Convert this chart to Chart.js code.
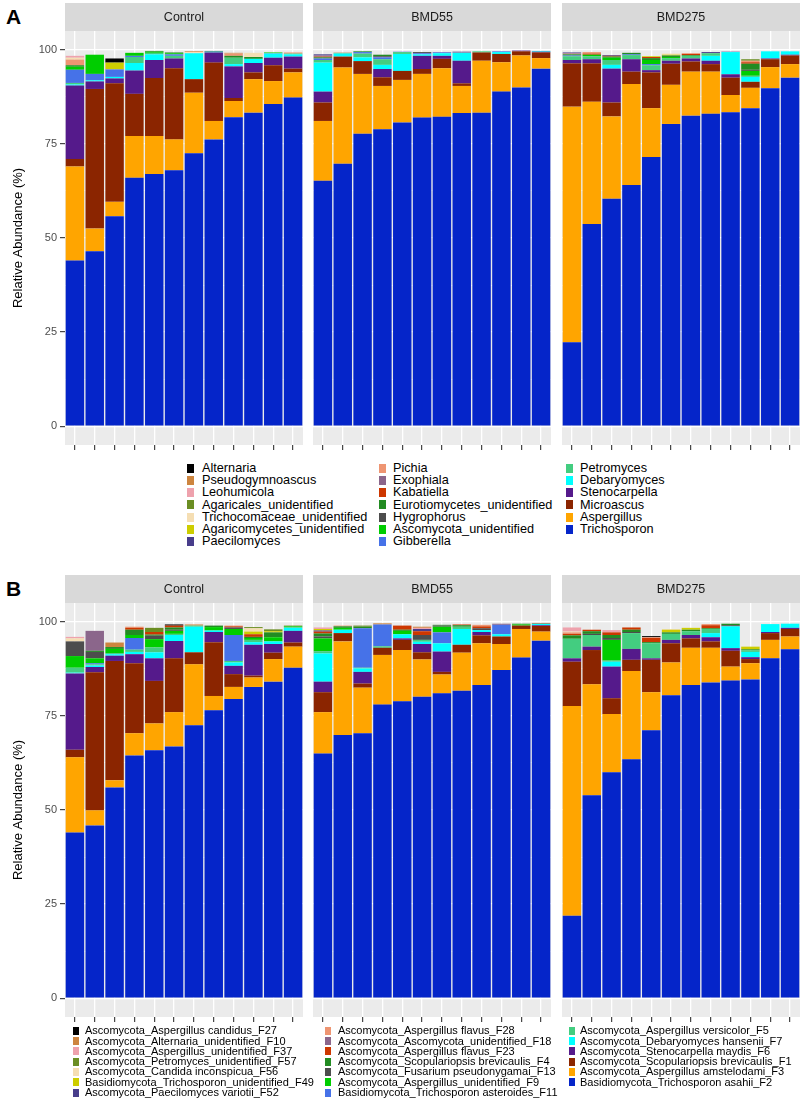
<!DOCTYPE html>
<html>
<head>
<meta charset="utf-8">
<script src="https://cdn.jsdelivr.net/npm/chart.js@4.4.0/dist/chart.umd.min.js"></script>
<style>
  body { margin: 0; background: #fff; font-family: "Liberation Sans", Arial, sans-serif; }
  #page { position: relative; width: 800px; height: 1100px; overflow: hidden; }
  .panel { position: absolute; }
  .tag { position: absolute; left: 6px; font-size: 21px; font-weight: bold; line-height: 1; }
  .leg { position: absolute; white-space: nowrap; color: #000; }
  .sw { position: absolute; }
</style>
</head>
<body>
<div id="page"></div>
<script>
// facets, samples and y ticks
const groups = ['Control', 'BMD55', 'BMD275'];
const samples = ['1', '2', '3', '4', '5', '6', '7', '8', '9', '10', '11', '12'];
const yTicks = [0, 25, 50, 75, 100];
const yGrid = [0, 12.5, 25, 37.5, 50, 62.5, 75, 87.5, 100];

// ---- figure A (genus level), 36 values: Control 1-12, BMD55 1-12, BMD275 1-12
const trichosporon = [44, 46.5, 55.8, 66, 67, 68, 72.5, 76.2, 82.1, 83.3, 85.6, 87.3,
  65.2, 69.7, 77.7, 78.9, 80.7, 82, 82.2, 83.2, 83.3, 88.9, 90, 95,
  22.3, 53.7, 60.4, 64.1, 71.5, 80.3, 82.5, 83, 83.4, 84.5, 89.8, 92.6];
const aspergillus = [25, 6, 3.8, 11.1, 10.1, 8.2, 16.1, 4.9, 4.3, 8.9, 6.1, 6.7,
  15.9, 25.6, 15.9, 11.5, 11.3, 11.6, 12.9, 7.2, 13.8, 7.8, 8.5, 2.8,
  62.6, 32.5, 21.9, 26.8, 13, 10.4, 11.7, 11.2, 4.6, 5.4, 5.6, 3.6];
const microascus = [2, 37.1, 31.5, 11.2, 15.4, 18.9, 3.6, 15.5, 0.8, 1.8, 4.2, 1,
  4.9, 2.9, 3.4, 2.3, 2.4, 1.3, 2.5, 0.7, 2.2, 2.2, 1.1, 1.5,
  11.5, 10.2, 3.7, 3.3, 9.5, 5.6, 2.7, 2, 4.6, 1.6, 2.1, 2.3];
const stenocarpella = [19.5, 2, 1.3, 6.2, 4.8, 2.6, 0, 2.7, 8.4, 2.5, 2, 3.2,
  2.9, 0, 0, 2.2, 0, 3.5, 0.8, 6, 0, 0, 0.2, 0.2,
  0.9, 1.1, 9, 3.3, 0.6, 0.8, 0.8, 0.9, 0.9, 0, 0.2, 0.2];
const debaryomyces = [0.3, 0.3, 0.4, 2, 1.5, 0, 6.9, 0.2, 0.6, 1.1, 1.1, 0.6,
  7.7, 0.8, 1, 1.1, 4.5, 0.4, 0.7, 2.1, 0, 0.5, 0, 0.2,
  0, 0, 1, 0, 0, 0, 0, 1.3, 5.9, 1.3, 1.9, 0.9];
const petromyces = [0.4, 0, 0, 1.6, 0.4, 0.7, 0, 0, 1.7, 0, 0, 0.2,
  0.7, 0.2, 1, 1.5, 0.5, 0, 0, 0, 0.3, 0, 0, 0,
  1, 0.8, 1.3, 1.1, 1.3, 0.7, 0.7, 0.7, 0, 0.3, 0, 0];
const gibberella = [3.5, 1.7, 2, 0.3, 0, 0.4, 0, 0, 0, 0, 0.1, 0,
  0.4, 0, 0.4, 0.5, 0.1, 0.3, 0.2, 0, 0, 0.2, 0, 0,
  0.2, 0, 0, 0.2, 0.3, 0, 0, 0, 0, 0, 0, 0];
const ascomycotaUnid = [0.8, 5.1, 0, 0.8, 0.3, 0.3, 0, 0, 0, 0, 0.2, 0,
  0, 0, 0, 0, 0, 0, 0, 0, 0, 0, 0, 0,
  0, 0.4, 0.6, 0, 1.1, 0.3, 0, 0, 0, 1.3, 0, 0];
const hygrophorus = [0, 0, 0, 0, 0, 0, 0, 0.2, 0, 0, 0, 0,
  0, 0, 0, 0.3, 0, 0.3, 0, 0, 0, 0, 0, 0,
  0, 0, 0, 0, 0, 0, 0, 0, 0, 0.3, 0, 0];
const eurotiomycetesUnid = [0.4, 0, 0, 0, 0.2, 0.2, 0, 0, 0.5, 0.5, 0, 0,
  0.3, 0, 0.2, 0.4, 0, 0, 0, 0, 0, 0, 0, 0,
  0.3, 0, 0.3, 0.4, 0.5, 0.4, 0.2, 0, 0, 1.6, 0, 0];
const kabatiella = [0, 0, 0, 0, 0, 0, 0, 0, 0, 0, 0, 0,
  0.2, 0, 0, 0, 0, 0, 0, 0, 0, 0, 0, 0,
  0, 0.3, 0.2, 0, 0.3, 0, 0.3, 0, 0, 0.4, 0, 0];
const exophiala = [0, 0, 0, 0, 0, 0, 0, 0, 0, 0, 0, 0,
  0.3, 0, 0, 0, 0, 0, 0, 0.1, 0, 0, 0, 0,
  0, 0, 0, 0, 0, 0, 0, 0, 0, 0, 0, 0];
const pichia = [1.5, 0, 0, 0, 0, 0, 0, 0, 0.6, 0, 0, 0.3,
  0, 0.1, 0, 0, 0, 0, 0, 0, 0, 0, 0, 0,
  0.2, 0.4, 0, 0, 0, 0, 0.2, 0, 0, 0.4, 0, 0];
const paecilomyces = [0, 0, 0, 0, 0, 0, 0, 0, 0, 0, 0, 0,
  0.3, 0, 0, 0, 0, 0, 0.1, 0.2, 0, 0, 0, 0,
  0.3, 0, 0.2, 0, 0, 0, 0, 0.3, 0.1, 0, 0, 0];
const agaricomycetesUnid = [0, 0, 1.8, 0, 0, 0, 0, 0, 0, 0, 0, 0,
  0, 0, 0, 0, 0, 0, 0, 0, 0, 0, 0, 0,
  0, 0, 0, 0, 0.2, 0.2, 0, 0, 0, 0, 0, 0];
const trichocomaceaeUnid = [0.5, 0, 0, 0, 0, 0, 0.3, 0, 0, 1.1, 0, 0,
  0, 0, 0, 0, 0, 0, 0, 0, 0, 0, 0, 0,
  0, 0, 0, 0, 0, 0.3, 0, 0, 0, 0, 0, 0];
const agaricalesUnid = [0, 0, 0, 0, 0, 0, 0, 0, 0, 0, 0, 0,
  0, 0, 0, 0, 0, 0, 0, 0, 0, 0, 0, 0,
  0, 0, 0, 0, 0, 0, 0, 0, 0, 0.4, 0, 0];
const leohumicola = [0.5, 0, 0, 0, 0, 0, 0, 0, 0, 0, 0, 0,
  0, 0, 0, 0, 0, 0, 0, 0, 0, 0, 0, 0,
  0, 0, 0, 0, 0, 0, 0, 0, 0, 0, 0, 0];
const pseudogymnoascus = [0, 0, 0, 0, 0, 0, 0.2, 0, 0.2, 0, 0, 0,
  0, 0, 0, 0, 0, 0, 0, 0, 0, 0, 0, 0,
  0, 0, 0, 0, 0, 0, 0, 0, 0, 0, 0, 0];
const alternaria = [0, 0, 1.1, 0, 0, 0, 0, 0, 0, 0, 0, 0,
  0, 0, 0, 0, 0, 0, 0, 0, 0, 0, 0, 0,
  0, 0, 0, 0, 0, 0, 0, 0, 0, 0, 0, 0];

// ---- figure B (species level)
const f2 = [44, 45.9, 56, 64.5, 65.9, 66.9, 72.5, 76.5, 79.5, 82.7, 84.1, 87.8,
  65, 69.9, 70.4, 78, 78.9, 80.1, 81, 81.7, 83.2, 87.2, 90.5, 95,
  21.9, 53.9, 60, 63.5, 71.2, 80.5, 83.2, 83.9, 84.4, 84.7, 90.3, 92.7];
const f3 = [20, 4, 1.9, 5.9, 7.1, 9.1, 16.2, 3.8, 3.2, 2.5, 6, 5.6,
  11, 24.9, 12.1, 13.2, 13.6, 9.9, 5, 10.1, 11.1, 6.9, 7.6, 2.4,
  55.7, 29.5, 15.5, 23.4, 10.1, 8.7, 9.9, 9.2, 3.7, 4.3, 4.9, 3.4];
const f1 = [2, 36.7, 31.7, 18.6, 11.3, 14.3, 3.2, 14.3, 3.4, 0.5, 1.7, 1.1,
  5.3, 2.2, 1.1, 1.9, 2.7, 1.9, 0.7, 2.1, 2.1, 2, 0.9, 1.5,
  11.8, 9.1, 4.2, 3, 8.6, 5.1, 2.5, 1.7, 4.2, 1.1, 1.8, 2];
const f6 = [20.3, 1.4, 1.4, 2.4, 6, 4.6, 0, 2.7, 2.2, 8.2, 2.3, 3.1,
  2.8, 0, 3.1, 0, 0.4, 2.2, 5.4, 0, 0.9, 0, 0, 0.2,
  0.9, 0.9, 8.4, 2.9, 0.4, 0.9, 0.9, 1.1, 0.7, 0.5, 0.3, 0.3];
const f7 = [0.2, 0.4, 0.4, 0.6, 1.6, 1.6, 6.8, 0.4, 0.9, 0.7, 0.7, 0.8,
  7.5, 0.9, 0.9, 0, 1.1, 0.6, 2.2, 4.2, 0.5, 0.6, 0, 0.4,
  0, 0, 1.3, 0, 0, 0, 0, 1.1, 5.8, 1.4, 2.1, 1.1];
const f5 = [1.3, 0.3, 0.3, 0.6, 1.3, 0.3, 0.3, 0, 0.4, 0.6, 0, 0.2,
  0.6, 0, 0.2, 0.4, 0, 0.5, 0, 0.6, 0, 0, 0, 0,
  5.2, 3.1, 0.3, 4.2, 4, 1.6, 1, 1.1, 0, 0.4, 0, 0];
const f11 = [0, 0.3, 0, 3.1, 0, 0, 0, 0, 6.9, 0, 0, 0,
  0, 0, 10.5, 5.8, 0, 0, 2.9, 0, 0, 2.5, 0, 0,
  0, 0, 0, 0, 0, 0, 0, 0, 0, 0, 0, 0];
const f9 = [3.1, 1.3, 1.1, 0.8, 2.2, 0.8, 0, 0.9, 1.6, 0.5, 1.1, 0.2,
  3.4, 0.5, 0, 0, 0.9, 0, 1.5, 0, 0, 0, 0.3, 0,
  0, 0, 5.5, 0, 0, 0, 0, 0, 0, 0, 0, 0];
const f13 = [3.9, 1.7, 0, 0, 0.9, 0.3, 0, 0, 0.4, 0, 0, 0,
  0.5, 0, 0, 0, 0, 1.3, 0.3, 0, 0.5, 0, 0, 0,
  0, 0.3, 0.5, 0.3, 0, 0, 0, 0, 0.3, 0, 0, 0];
const f4 = [0, 0.3, 0.5, 1.4, 0.3, 0.6, 0, 0.4, 0, 0.3, 1.3, 0,
  0.8, 0.4, 0.4, 0, 0.3, 0, 0.2, 0.4, 0, 0, 0.2, 0,
  0.9, 0.7, 0.8, 0.6, 0.3, 0.4, 0.4, 0.2, 0.4, 0.3, 0, 0];
const f23 = [0, 0, 0, 0.5, 0.7, 0.5, 0, 0, 0.3, 0.7, 0, 0,
  0.5, 0, 0, 0, 1.1, 1, 0, 0.2, 0.5, 0, 0, 0.2,
  0.4, 0.4, 0.7, 0.6, 1.1, 0, 0, 0.8, 0, 0, 0, 0];
const f18 = [0, 5.3, 0, 0, 0, 0, 0, 0, 0, 0, 0, 0,
  0, 0, 0, 0, 0, 0, 0, 0, 0, 0.3, 0, 0,
  0, 0, 0, 0, 0, 0, 0, 0, 0, 0, 0, 0];
const f28 = [0, 0, 0, 0.3, 0, 0, 0, 0, 0.2, 0, 0, 0,
  0, 0.2, 0, 0, 0, 0, 0, 0, 0.4, 0, 0, 0,
  0.4, 0, 0, 0, 0.2, 0, 0, 0.3, 0, 0, 0, 0];
const f52 = [0, 0, 0, 0, 0, 0, 0, 0, 0, 0, 0, 0,
  0.3, 0, 0, 0, 0, 0.6, 0, 0, 0, 0, 0, 0,
  0, 0, 0, 0, 0, 0, 0, 0, 0, 0, 0, 0];
const f49 = [0, 0, 0, 0, 0, 0, 0, 0, 0, 0.7, 0.3, 0,
  0.4, 0, 0, 0, 0, 0, 0, 0, 0, 0, 0, 0,
  0, 0, 0, 0, 0, 0.7, 0.5, 0, 0, 0.7, 0, 0];
const f56 = [0.8, 0, 0, 0, 0, 0, 0, 0, 0, 0.9, 0, 0,
  0, 0, 0, 0, 0, 0, 0, 0, 0, 0, 0, 0,
  0.2, 0, 0, 0, 0, 0.2, 0, 0, 0, 0, 0, 0];
const f57 = [0, 0, 0, 0, 1.1, 0, 0, 0, 0, 0.3, 0.5, 0.2,
  0, 0, 0.3, 0, 0, 0, 0, 0, 0, 0, 0, 0,
  0, 0, 0, 0, 0, 0, 0, 0, 0, 0, 0, 0];
const f37 = [0.4, 0, 0, 0, 0, 0, 0, 0, 0, 0, 0, 0,
  0.4, 0, 0, 0, 0, 0.3, 0, 0, 0, 0, 0, 0,
  1.1, 0, 0.6, 0, 0, 0, 0, 0, 0, 0, 0, 0];
const f10 = [0, 0, 1.2, 0, 0, 0, 0.3, 0, 0, 0, 0, 0,
  0, 0, 0, 0.3, 0, 0.3, 0, 0, 0, 0, 0, 0,
  0, 0, 0, 0, 0, 0, 0, 0, 0, 0, 0, 0];
const f27 = [0, 0, 0, 0, 0, 0.3, 0, 0, 0, 0, 0, 0,
  0, 0, 0, 0, 0, 0, 0, 0, 0, 0, 0, 0,
  0, 0, 0, 0, 0.3, 0, 0, 0, 0, 0, 0, 0];

// legend order (top of stack first)
const namesA = ['Alternaria', 'Pseudogymnoascus', 'Leohumicola', 'Agaricales_unidentified',
  'Trichocomaceae_unidentified', 'Agaricomycetes_unidentified', 'Paecilomyces',
  'Pichia', 'Exophiala', 'Kabatiella', 'Eurotiomycetes_unidentified', 'Hygrophorus',
  'Ascomycota_unidentified', 'Gibberella', 'Petromyces', 'Debaryomyces', 'Stenocarpella',
  'Microascus', 'Aspergillus', 'Trichosporon'];
const seriesA = [alternaria, pseudogymnoascus, leohumicola, agaricalesUnid, trichocomaceaeUnid,
  agaricomycetesUnid, paecilomyces, pichia, exophiala, kabatiella, eurotiomycetesUnid,
  hygrophorus, ascomycotaUnid, gibberella, petromyces, debaryomyces, stenocarpella,
  microascus, aspergillus, trichosporon];
const namesB = ['Ascomycota_Aspergillus candidus_F27', 'Ascomycota_Alternaria_unidentified_F10',
  'Ascomycota_Aspergillus_unidentified_F37', 'Ascomycota_Petromyces_unidentified_F57',
  'Ascomycota_Candida inconspicua_F56', 'Basidiomycota_Trichosporon_unidentified_F49',
  'Ascomycota_Paecilomyces variotii_F52', 'Ascomycota_Aspergillus flavus_F28',
  'Ascomycota_Ascomycota_unidentified_F18', 'Ascomycota_Aspergillus flavus_F23',
  'Ascomycota_Scopulariopsis brevicaulis_F4', 'Ascomycota_Fusarium pseudonygamai_F13',
  'Ascomycota_Aspergillus_unidentified_F9', 'Basidiomycota_Trichosporon asteroides_F11',
  'Ascomycota_Aspergillus versicolor_F5', 'Ascomycota_Debaryomyces hansenii_F7',
  'Ascomycota_Stenocarpella maydis_F6', 'Ascomycota_Scopulariopsis brevicaulis_F1',
  'Ascomycota_Aspergillus amstelodami_F3', 'Basidiomycota_Trichosporon asahii_F2'];
const seriesB = [f27, f10, f37, f57, f56, f49, f52, f28, f18, f23, f4, f13, f9, f11,
  f5, f7, f6, f1, f3, f2];
const palette = ['#000000', '#CD853F', '#EEA2AD', '#6B8E23', '#F5DEB3', '#CDCD00', '#483D8B',
  '#EE9572', '#8B668B', '#CD3700', '#228B22', '#4D4D4D', '#00CD00', '#4672E8',
  '#43CD80', '#00FFFF', '#551A8B', '#8B2500', '#FFA500', '#0525C9'];

const FONT = '"Liberation Sans", Arial, sans-serif';
const page = document.getElementById('page');

// grey panel background + facet strip
const facetBg = {
  id: 'facetBg',
  beforeDraw(chart, args, opts) {
    const { ctx, chartArea: a } = chart;
    ctx.save();
    ctx.fillStyle = '#EBEBEB';
    ctx.fillRect(a.left, a.top, a.right - a.left, a.bottom - a.top);
    ctx.fillStyle = '#D9D9D9';
    ctx.fillRect(a.left, opts.top, a.right - a.left, a.top - opts.top);
    ctx.fillStyle = '#1A1A1A';
    ctx.font = '12.5px ' + FONT;
    ctx.textAlign = 'center';
    ctx.textBaseline = 'middle';
    ctx.fillText(opts.text, (a.left + a.right) / 2, (opts.top + a.top) / 2 + 0.5);
    ctx.restore();
  }
};

function makePanel(top, g, series) {
  const first = g === 0;
  const left = [0, 313, 562][g];
  const w = first ? 303 : 238, h = 456;
  const cv = document.createElement('canvas');
  cv.className = 'panel';
  cv.width = w; cv.height = h;
  cv.style.left = left + 'px'; cv.style.top = top + 'px';
  cv.style.width = w + 'px'; cv.style.height = h + 'px';
  page.appendChild(cv);

  // dataset 0 sits at the bottom of the stack
  const datasets = [];
  for (let k = series.length - 1; k >= 0; k--) {
    datasets.push({
      label: String(k),
      data: series[k].slice(g * 12, g * 12 + 12),
      backgroundColor: palette[k],
      borderWidth: 0,
      barPercentage: 0.93,
      categoryPercentage: 1
    });
  }

  new Chart(cv, {
    type: 'bar',
    data: { labels: samples, datasets },
    options: {
      responsive: false,
      animation: false,
      devicePixelRatio: 1,
      layout: { padding: { top: 31, left: 0, right: 0, bottom: 0 } },
      plugins: {
        legend: { display: false },
        tooltip: { enabled: false },
        facetBg: { text: groups[g], top: 3 }
      },
      scales: {
        x: {
          stacked: true,
          offset: true,
          border: { display: false },
          grid: { offset: false, color: '#FFFFFF', lineWidth: 1.3, tickColor: '#333333', tickLength: 5, tickWidth: 1.1 },
          ticks: { callback: () => '', padding: 0, font: { size: 1 } },
          afterFit: s => { s.height = 11; }
        },
        y: {
          stacked: true,
          min: -5,
          max: 105,
          afterBuildTicks: s => { s.ticks = yGrid.map(v => ({ value: v })); },
          border: { display: false },
          grid: {
            color: '#FFFFFF',
            lineWidth: c => (c.tick && yTicks.includes(c.tick.value)) ? 1.3 : 0.6,
            tickColor: c => (c.tick && yTicks.includes(c.tick.value)) ? '#333333' : 'rgba(0,0,0,0)',
            drawTicks: first,
            tickLength: 5,
            tickWidth: 1.1
          },
          ticks: {
            display: first,
            color: '#4D4D4D',
            padding: 3,
            font: { size: 11, family: FONT },
            callback: v => yTicks.includes(v) ? String(v) : ''
          },
          title: {
            display: first,
            text: 'Relative Abundance (%)',
            color: '#000000',
            font: { size: 13, family: FONT },
            padding: { top: 11, bottom: 0 }
          },
          afterFit: s => { s.width = first ? 65 : 0; }
        }
      }
    },
    plugins: [facetBg]
  });
}

function makeLegend(names, top, rowH, colSw, colText, fontSize, swW, swH) {
  names.forEach((name, i) => {
    const col = Math.floor(i / 7), row = i % 7;
    const yc = top + row * rowH;
    const sw = document.createElement('div');
    sw.className = 'sw';
    sw.style.left = colSw[col] + 'px';
    sw.style.top = (yc - swH / 2) + 'px';
    sw.style.width = swW + 'px';
    sw.style.height = swH + 'px';
    sw.style.background = palette[i];
    page.appendChild(sw);
    const t = document.createElement('div');
    t.className = 'leg';
    t.textContent = name;
    t.style.left = colText[col] + 'px';
    t.style.top = (yc - (fontSize + 2) / 2) + 'px';
    t.style.fontSize = fontSize + 'px';
    t.style.lineHeight = (fontSize + 2) + 'px';
    page.appendChild(t);
  });
}

function makeTag(text, top) {
  const d = document.createElement('div');
  d.className = 'tag';
  d.textContent = text;
  d.style.top = top + 'px';
  page.appendChild(d);
}

// figure A
makeTag('A', 6);
groups.forEach((_, g) => makePanel(0, g, seriesA));
makeLegend(namesA, 468.3, 12.23, [187, 379, 566], [202, 393, 580], 12.7, 7, 9);

// figure B
makeTag('B', 578);
groups.forEach((_, g) => makePanel(572, g, seriesB));
makeLegend(namesB, 1030.7, 10.3, [73, 325, 569], [85, 338, 580], 11, 6, 8);
</script>
</body>
</html>
